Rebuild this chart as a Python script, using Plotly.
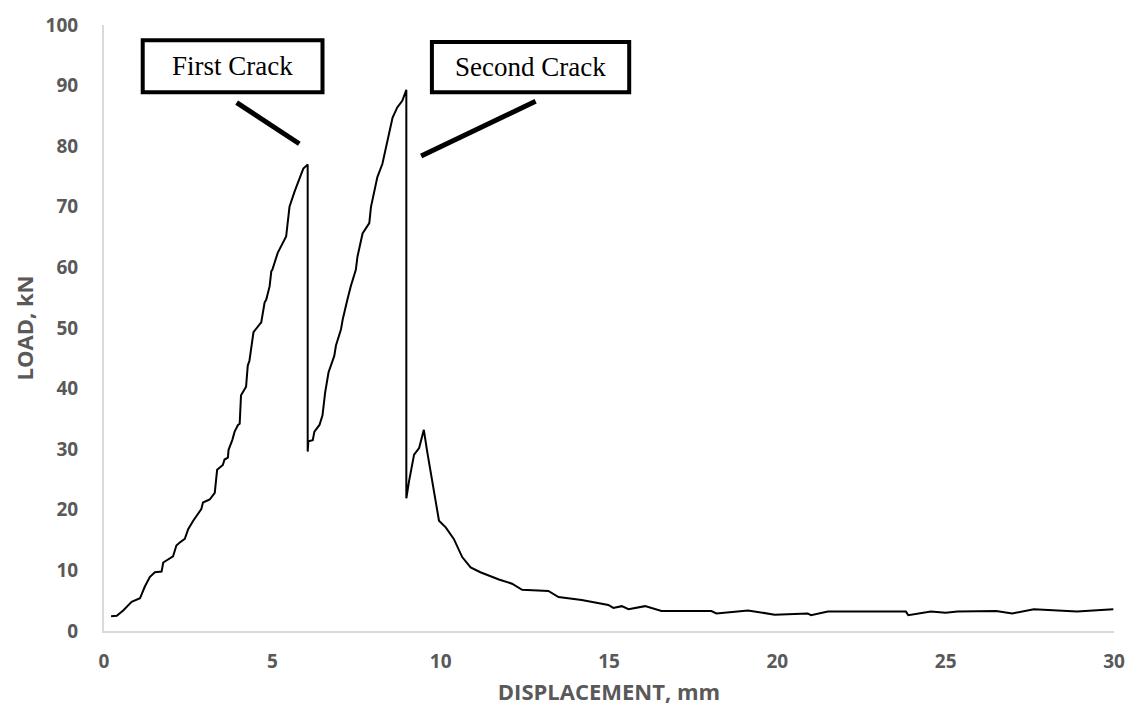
import plotly.graph_objects as go

displacement_mm = [
    0.21, 0.38, 0.57, 0.82, 1.07, 1.21, 1.36, 1.51, 1.71, 1.76, 2.05, 2.15, 2.25, 2.4, 2.5,
    2.65, 2.89, 2.94, 3.14, 3.29, 3.36, 3.53, 3.58, 3.68, 3.70, 3.81, 3.88, 3.98, 4.03, 4.07,
    4.22, 4.27, 4.32, 4.44, 4.62, 4.67, 4.77, 4.82, 4.92, 4.97, 5.0, 5.16, 5.41, 5.51, 5.66,
    5.80, 5.92, 6.02, 6.05, 6.05, 6.07, 6.2, 6.25, 6.4, 6.49, 6.57, 6.67, 6.84, 6.89, 7.04,
    7.09, 7.23, 7.33, 7.48, 7.53, 7.68, 7.88, 7.93, 8.12, 8.27, 8.37, 8.47, 8.57, 8.71, 8.86,
    8.98, 8.98, 9.06, 9.21, 9.36, 9.5, 9.6, 9.75, 9.85, 9.95, 10.15, 10.39, 10.64, 10.89, 11.18,
    11.53, 11.73, 12.12, 12.42, 13.2, 13.5, 14.19, 14.98, 15.13, 15.38, 15.58, 16.07, 16.56, 18.04, 18.19,
    19.13, 19.92, 20.9, 21.0, 21.5, 23.82, 23.89, 24.56, 25.0, 25.35, 26.5, 26.98, 27.62, 28.9, 29.98,
]
load_kn = [
    2.45, 2.5, 3.4, 4.8, 5.4, 7.3, 8.9, 9.7, 9.8, 11.3, 12.3, 14.1, 14.6, 15.2, 16.8,
    18.2, 20.1, 21.2, 21.7, 22.8, 26.6, 27.4, 28.3, 28.6, 29.9, 31.5, 32.9, 34.0, 34.2, 38.9,
    40.3, 43.8, 44.6, 49.3, 50.6, 50.9, 54.2, 54.7, 56.9, 59.4, 59.6, 62.4, 65.1, 70.0, 72.5,
    74.6, 76.3, 76.8, 77.0, 29.6, 31.3, 31.5, 32.9, 34.0, 35.6, 39.4, 42.7, 45.4, 47.1, 49.8,
    51.4, 54.7, 56.9, 59.6, 61.8, 65.6, 67.3, 70.0, 74.9, 77.1, 79.8, 82.5, 84.7, 86.4, 87.5,
    89.3, 21.9, 24.7, 29.1, 30.2, 33.2, 29.6, 24.7, 20.9, 18.2, 17.1, 15.2, 12.2, 10.5, 9.7,
    8.9, 8.5, 7.8, 6.8, 6.6, 5.6, 5.1, 4.3, 3.8, 4.1, 3.6, 4.1, 3.3, 3.3, 2.9,
    3.4, 2.7, 2.9, 2.6, 3.2, 3.2, 2.6, 3.2, 3.0, 3.2, 3.3, 2.9, 3.6, 3.2, 3.6,
]

x_ticks = [0, 5, 10, 15, 20, 25, 30]
y_ticks = [0, 10, 20, 30, 40, 50, 60, 70, 80, 90, 100]

labels = ["First Crack", "Second Crack"]
label_boxes = [(1.15, 6.49, 88.9, 97.5), (9.74, 15.6, 88.9, 97.2)]
leader_lines = [((3.94, 87.2), (5.80, 80.4)), ((12.82, 87.4), (9.42, 78.4))]

fig = go.Figure()
fig.add_trace(go.Scatter(
    x=displacement_mm, y=load_kn, mode="lines",
    line=dict(color="black", width=2), showlegend=False, hoverinfo="skip",
))

tick_font = dict(family="'Open Sans', Lato, sans-serif", size=19, color="#595959")
title_font = dict(family="'Open Sans', Lato, sans-serif", size=22, color="#595959")

fig.update_layout(
    width=1137, height=720,
    margin=dict(l=104, r=20, t=22, b=89),
    plot_bgcolor="white", paper_bgcolor="white",
    xaxis=dict(
        range=[0, 30], tickvals=x_ticks, ticktext=[f"<b>{t}</b>" for t in x_ticks],
        showgrid=False, zeroline=False, showline=True, linecolor="#d9d9d9", linewidth=2,
        ticks="", tickfont=tick_font, ticklabelstandoff=12,
        title=dict(text="<b>DISPLACEMENT, mm</b>", font=title_font, standoff=12),
    ),
    yaxis=dict(
        range=[0, 100], tickvals=y_ticks, ticktext=[f"<b>{t}</b>" for t in y_ticks],
        showgrid=False, zeroline=False, showline=True, linecolor="#d9d9d9", linewidth=2,
        ticks="", tickfont=tick_font, ticklabelstandoff=20,
        title=dict(text="<b>LOAD, kN</b>", font=title_font, standoff=6),
    ),
)

for text, (x0, x1, y0, y1) in zip(labels, label_boxes):
    fig.add_shape(type="rect", x0=x0, x1=x1, y0=y0, y1=y1, xref="x", yref="y",
                  line=dict(color="black", width=4), fillcolor="white")
    fig.add_annotation(x=(x0 + x1) / 2, y=(y0 + y1) / 2, xref="x", yref="y", text=text,
                       showarrow=False,
                       font=dict(family="'Liberation Serif', 'Times New Roman', serif", size=27, color="black"))

for (xa, ya), (xb, yb) in leader_lines:
    fig.add_shape(type="line", x0=xa, y0=ya, x1=xb, y1=yb, xref="x", yref="y",
                  line=dict(color="black", width=5))

fig.write_html("out.html", config={"displayModeBar": False},
               post_script="document.body.style.margin='0';")
